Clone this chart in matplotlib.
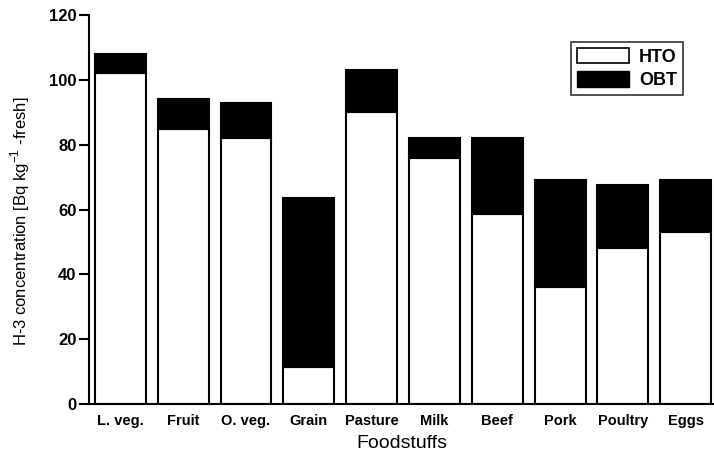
import numpy as np
import matplotlib.pyplot as plt
from matplotlib.patches import Patch

# categories and stacked values
foods = ['L. veg.', 'Fruit', 'O. veg.', 'Grain', 'Pasture', 'Milk', 'Beef', 'Pork', 'Poultry', 'Eggs']
hto = [102, 85, 82, 11.5, 90, 76, 58.5, 36, 48, 53]
total = [108, 94, 93, 63.5, 103, 82, 82, 69, 67.5, 69]
obt = [t - h for t, h in zip(total, hto)]

plt.rcParams['font.family'] = ['Liberation Sans', 'DejaVu Sans']

fig = plt.figure(figsize=(7.14, 4.57), dpi=100)
ax = fig.add_axes([0.1246, 0.116, 0.8754, 0.851])

x = np.arange(len(foods))
ax.bar(x, hto, width=0.81, color='white', edgecolor='black', linewidth=1.5)
ax.bar(x, obt, bottom=hto, width=0.81, color='black', edgecolor='black', linewidth=1.5)

ax.set_xlim(-0.5, 9.45)
ax.set_ylim(0, 120)
ax.set_yticks(np.arange(0, 121, 20))
ax.set_xticks(x)
ax.set_xticklabels(foods, fontweight='bold', fontsize=10.5)
for lab in ax.get_yticklabels():
    lab.set_fontweight('bold')
    lab.set_fontsize(12)
ax.tick_params(axis='x', length=0, pad=7)
ax.tick_params(axis='y', length=7, width=1.5, direction='out', pad=2)

ax.spines['top'].set_visible(False)
ax.spines['right'].set_visible(False)
ax.spines['left'].set_linewidth(1.5)
ax.spines['bottom'].set_linewidth(1.5)

ax.set_ylabel('H-3 concentration [Bq kg$^{\\mathregular{-1}}$ -fresh]', fontsize=12)
ax.yaxis.set_label_coords(-0.091, 0.47)
ax.set_xlabel('Foodstuffs', fontsize=14, labelpad=5)

handles = [Patch(facecolor='white', edgecolor='black', linewidth=1.2, label='HTO'),
           Patch(facecolor='black', edgecolor='black', label='OBT')]
leg = ax.legend(handles=handles, loc='upper right', bbox_to_anchor=(0.95, 0.93),
                frameon=True, fancybox=False, edgecolor='black',
                prop={'weight': 'bold', 'size': 13}, handlelength=2.9, handleheight=0.95,
                handletextpad=0.55, borderpad=0.3, labelspacing=0.3, borderaxespad=0)
leg.get_frame().set_linewidth(1.2)

fig.savefig('out.png', dpi=100)
